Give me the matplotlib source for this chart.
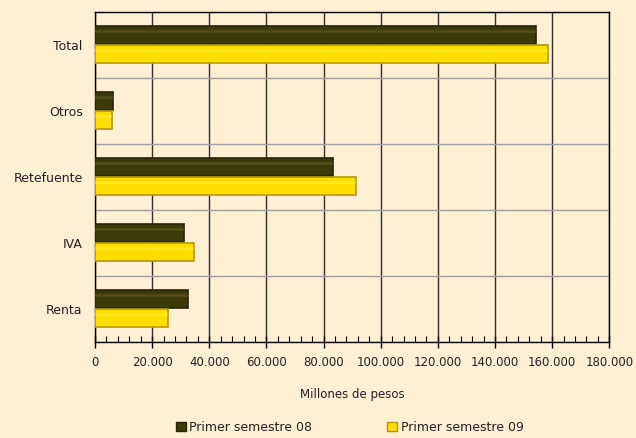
'''
    Recaudo por impuesto, primer semestre 08 vs 09 (barras horizontales).
'''

import numpy as np
import matplotlib.pyplot as plt
from matplotlib.patches import Patch
from matplotlib.ticker import MultipleLocator, FuncFormatter

categories = ['Renta', 'IVA', 'Retefuente', 'Otros', 'Total']
sem_08 = [32500, 31100, 83300, 6300, 154500]
sem_09 = [25400, 34700, 91300, 5950, 158700]
legend = ['Primer semestre 08', 'Primer semestre 09']

BG = '#FFEFD3'
DARK = '#3B3A08'
DARK_EDGE = '#26250A'
DARK_HI = '#6A6830'
YELLOW = '#FFDD00'
YELLOW_EDGE = '#B8950C'
YELLOW_HI = '#FFF24A'


def bevel_bars(ax, ypos, values, h, face, edge, hi):
    ''' Bar with a dark rim and a lighter strip near the top '''
    ax.barh(ypos, values, h, color=face, edgecolor=edge, linewidth=1.2, zorder=3)
    ax.barh(ypos + h * 0.2, values, h * 0.2, color=hi, alpha=0.4,
            linewidth=0, zorder=4)


fig = plt.figure(figsize=(6.36, 4.38), dpi=100, facecolor=BG)
ax = fig.add_axes([0.1494, 0.2192, 0.8086, 0.7534])
ax.set_facecolor(BG)

y = np.arange(len(categories))
h = 0.27
bevel_bars(ax, y + 0.15, sem_08, h, DARK, DARK_EDGE, DARK_HI)
bevel_bars(ax, y - 0.14, sem_09, h, YELLOW, YELLOW_EDGE, YELLOW_HI)

ax.set_xlim(0, 180000)
ax.set_ylim(-0.5, len(categories) - 0.5)
ax.xaxis.set_major_locator(MultipleLocator(20000))
ax.xaxis.set_minor_locator(MultipleLocator(4000))
ax.xaxis.set_major_formatter(FuncFormatter(lambda v, p: f'{int(v):,}'.replace(',', '.')))
ax.tick_params(axis='x', which='major', direction='inout', length=8, width=1,
               labelsize=8.5, pad=6, colors='black', labelcolor='#222222')
ax.tick_params(axis='x', which='minor', direction='in', length=4, width=0.8)

ax.set_yticks(y)
ax.set_yticklabels(categories)
ax.set_yticks(np.arange(len(categories) + 1) - 0.5, minor=True)
ax.tick_params(axis='y', which='both', length=0, labelsize=9, pad=9,
               labelcolor='#222222')

ax.xaxis.grid(True, which='major', color='#303030', linewidth=1, zorder=1)
ax.yaxis.grid(True, which='minor', color='#A0A0A0', linewidth=1, zorder=1)
ax.yaxis.grid(False, which='major')
ax.set_axisbelow(True)
for s in ax.spines.values():
    s.set_color('black')
    s.set_linewidth(1)

ax.set_xlabel('Millones de pesos', fontsize=8.5, labelpad=14, color='#222222')

handles = [Patch(facecolor=DARK, edgecolor=DARK_EDGE),
           Patch(facecolor=YELLOW, edgecolor=YELLOW_EDGE)]
fig.legend(handles, legend, loc='lower center', bbox_to_anchor=(0.55, -0.016),
           ncol=2, frameon=False, fontsize=9, handlelength=0.8, handleheight=0.8,
           handletextpad=0.3, columnspacing=6.0, labelcolor='#222222')

fig.savefig('out.png', dpi=100, facecolor=BG)
